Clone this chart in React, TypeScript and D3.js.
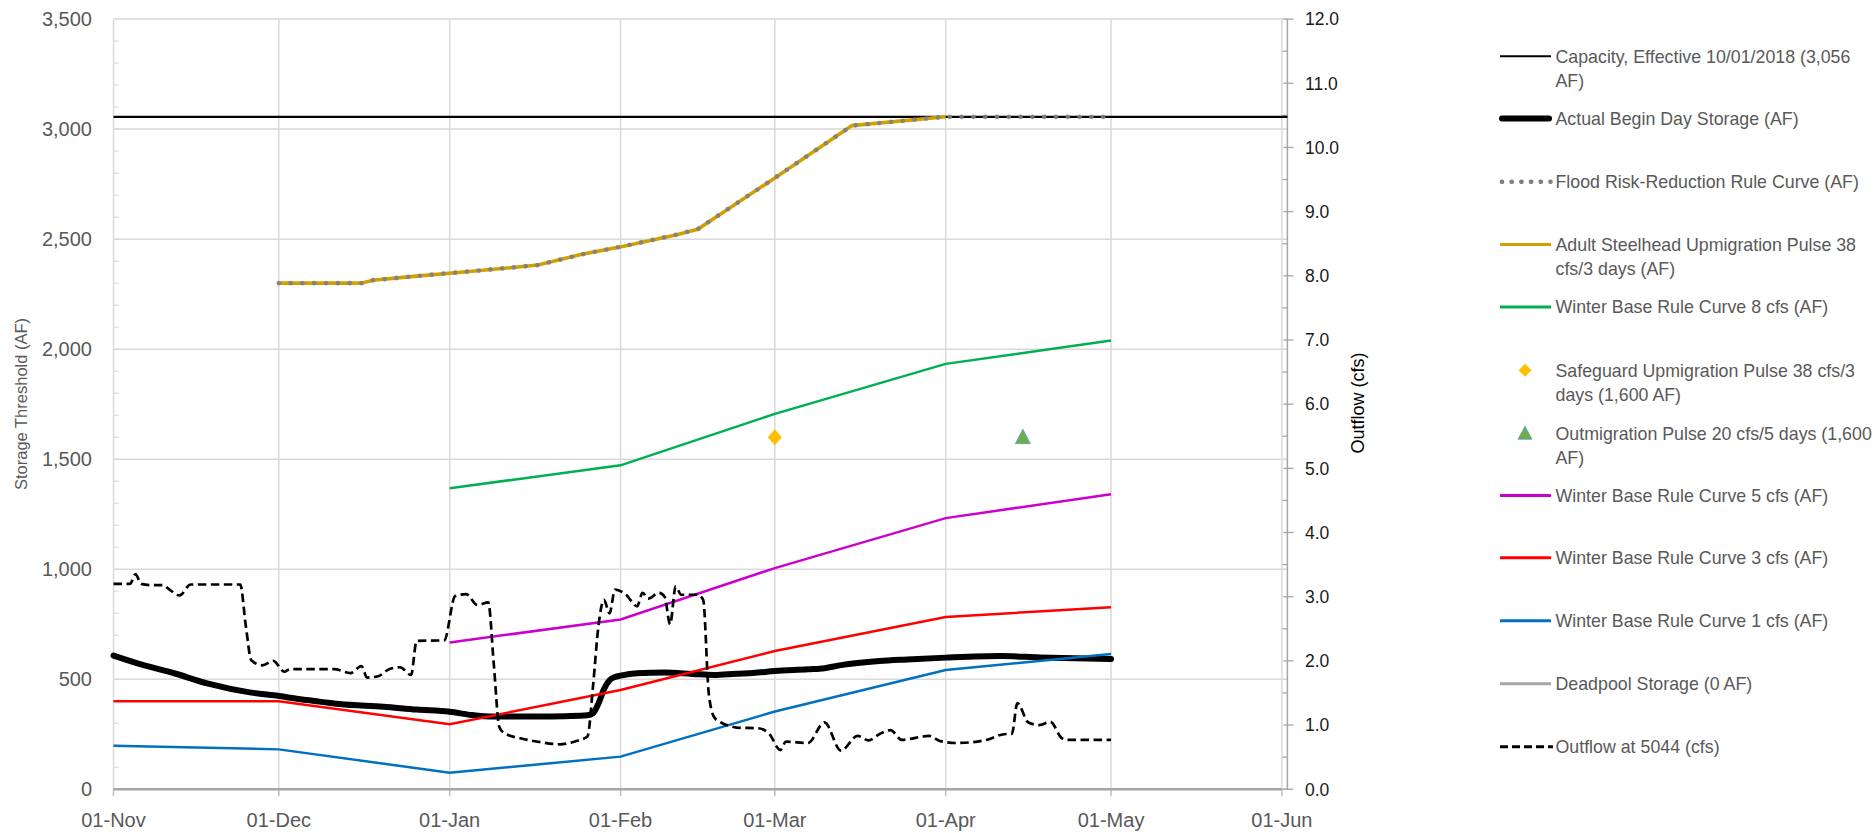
import React from "react";
import * as d3 from "d3";

// ---------- DATA ----------
const capacityAF: [string, number][] = [
  ["2018-11-01", 3056],
  ["2019-06-02", 3056],
];

const actualStorageAF: [string, number][] = [
  ["2018-11-01", 607], ["2018-11-06", 567], ["2018-11-12", 527], ["2018-11-18", 481],
  ["2018-11-26", 439], ["2018-12-01", 424], ["2018-12-06", 405], ["2018-12-10", 393],
  ["2018-12-12", 387], ["2018-12-20", 375], ["2018-12-26", 362], ["2019-01-01", 352],
  ["2019-01-05", 337], ["2019-01-09", 330], ["2019-01-17", 330], ["2019-01-22", 332],
  ["2019-01-26", 336], ["2019-01-27", 345], ["2019-01-28", 390], ["2019-01-29", 455],
  ["2019-01-30", 495], ["2019-01-31", 510], ["2019-02-01", 516], ["2019-02-04", 527],
  ["2019-02-09", 530], ["2019-02-14", 524], ["2019-02-18", 519], ["2019-02-22", 525],
  ["2019-02-25", 528], ["2019-03-01", 537], ["2019-03-07", 545], ["2019-03-10", 550],
  ["2019-03-13", 564], ["2019-03-20", 583], ["2019-03-25", 590], ["2019-04-01", 598],
  ["2019-04-11", 605], ["2019-04-18", 599], ["2019-05-01", 592],
];

const adultSteelheadAF: [string, number][] = [
  ["2018-12-01", 2300], ["2018-12-16", 2300], ["2018-12-18", 2313], ["2018-12-26", 2332],
  ["2019-01-04", 2352], ["2019-01-12", 2370], ["2019-01-17", 2382], ["2019-01-25", 2431],
  ["2019-02-02", 2470], ["2019-02-11", 2519], ["2019-02-15", 2545], ["2019-03-01", 2778],
  ["2019-03-15", 3016], ["2019-04-01", 3056],
];

const floodRuleAF: [string, number][] = [
  ["2018-12-01", 2300], ["2018-12-16", 2300], ["2018-12-18", 2313], ["2018-12-26", 2332],
  ["2019-01-04", 2352], ["2019-01-12", 2370], ["2019-01-17", 2382], ["2019-01-25", 2431],
  ["2019-02-02", 2470], ["2019-02-11", 2519], ["2019-02-15", 2545], ["2019-03-01", 2778],
  ["2019-03-15", 3016], ["2019-04-01", 3056], ["2019-04-30", 3056],
];

const winter8AF: [string, number][] = [
  ["2019-01-01", 1368], ["2019-02-01", 1472], ["2019-03-01", 1706],
  ["2019-04-01", 1933], ["2019-05-01", 2039],
];
const winter5AF: [string, number][] = [
  ["2019-01-01", 667], ["2019-02-01", 771], ["2019-03-01", 1005],
  ["2019-04-01", 1232], ["2019-05-01", 1341],
];
const winter3AF: [string, number][] = [
  ["2018-11-01", 400], ["2018-12-01", 400], ["2019-01-01", 295], ["2019-02-01", 451],
  ["2019-03-01", 628], ["2019-04-01", 783], ["2019-05-01", 827],
];
const winter1AF: [string, number][] = [
  ["2018-11-01", 198], ["2018-12-01", 181], ["2019-01-01", 75], ["2019-02-01", 148],
  ["2019-03-01", 353], ["2019-04-01", 542], ["2019-05-01", 614],
];
const deadpoolAF: [string, number][] = [
  ["2018-11-01", 0],
  ["2019-06-01", 0],
];
const safeguardPulse: [string, number][] = [["2019-03-01", 1600]];
const outmigrationPulse: [string, number][] = [["2019-04-15", 1600]];

const outflowCfs: [string, number][] = [
  ["2018-11-01", 3.2], ["2018-11-04", 3.2], ["2018-11-05", 3.35], ["2018-11-06", 3.2],
  ["2018-11-08", 3.18], ["2018-11-10", 3.18], ["2018-11-11", 3.12], ["2018-11-13", 3.02],
  ["2018-11-15", 3.19], ["2018-11-24", 3.19], ["2018-11-25", 2.55], ["2018-11-26", 2.01],
  ["2018-11-28", 1.93], ["2018-11-30", 2.0], ["2018-12-02", 1.83], ["2018-12-03", 1.87],
  ["2018-12-11", 1.87], ["2018-12-14", 1.81], ["2018-12-16", 1.92], ["2018-12-17", 1.74],
  ["2018-12-19", 1.76], ["2018-12-21", 1.87], ["2018-12-23", 1.9], ["2018-12-25", 1.78],
  ["2018-12-26", 2.31], ["2018-12-31", 2.32], ["2019-01-02", 3.01], ["2019-01-04", 3.04],
  ["2019-01-06", 2.87], ["2019-01-08", 2.91], ["2019-01-09", 1.95], ["2019-01-10", 0.97],
  ["2019-01-11", 0.87], ["2019-01-14", 0.79], ["2019-01-17", 0.74], ["2019-01-21", 0.7],
  ["2019-01-24", 0.75], ["2019-01-26", 0.82], ["2019-01-27", 1.6], ["2019-01-28", 2.55],
  ["2019-01-29", 2.95], ["2019-01-30", 2.74], ["2019-01-31", 3.11], ["2019-02-02", 3.03],
  ["2019-02-04", 2.85], ["2019-02-05", 3.06], ["2019-02-06", 2.97], ["2019-02-08", 3.06],
  ["2019-02-09", 3.0], ["2019-02-10", 2.57], ["2019-02-11", 3.16], ["2019-02-12", 3.03],
  ["2019-02-15", 3.03], ["2019-02-16", 2.95], ["2019-02-17", 1.5], ["2019-02-18", 1.12],
  ["2019-02-19", 1.05], ["2019-02-21", 0.98], ["2019-02-22", 0.96], ["2019-02-26", 0.95],
  ["2019-02-28", 0.86], ["2019-03-02", 0.61], ["2019-03-03", 0.74], ["2019-03-07", 0.72],
  ["2019-03-10", 1.04], ["2019-03-13", 0.6], ["2019-03-16", 0.83], ["2019-03-18", 0.76],
  ["2019-03-20", 0.86], ["2019-03-22", 0.92], ["2019-03-24", 0.77], ["2019-03-29", 0.83],
  ["2019-03-31", 0.75], ["2019-04-03", 0.72], ["2019-04-08", 0.76], ["2019-04-12", 0.86],
  ["2019-04-13", 0.86], ["2019-04-14", 1.34], ["2019-04-16", 1.04], ["2019-04-18", 1.0],
  ["2019-04-20", 1.05], ["2019-04-22", 0.8], ["2019-04-23", 0.77], ["2019-05-01", 0.77],
];

const leftTicks = [0, 500, 1000, 1500, 2000, 2500, 3000, 3500];
const rightTicks = [0, 1, 2, 3, 4, 5, 6, 7, 8, 9, 10, 11, 12];

const legendLabels: string[][] = [
  ["Capacity, Effective 10/01/2018 (3,056", "AF)"],
  ["Actual Begin Day Storage (AF)"],
  ["Flood Risk-Reduction Rule Curve (AF)"],
  ["Adult Steelhead Upmigration Pulse 38", "cfs/3 days (AF)"],
  ["Winter Base Rule Curve 8 cfs (AF)"],
  ["Safeguard Upmigration Pulse 38 cfs/3", "days (1,600 AF)"],
  ["Outmigration Pulse 20 cfs/5 days (1,600", "AF)"],
  ["Winter Base Rule Curve 5 cfs (AF)"],
  ["Winter Base Rule Curve 3 cfs (AF)"],
  ["Winter Base Rule Curve 1 cfs (AF)"],
  ["Deadpool Storage (0 AF)"],
  ["Outflow at 5044 (cfs)"],
];

// ---------- STYLE ----------
const FONT = "'Liberation Sans', Arial, sans-serif";
const C = {
  grid: "#d9d9d9",
  axis: "#bfbfbf",
  label: "#595959",
  orange: "#d4a000",
  dots: "#7f7f7f",
  green: "#00b050",
  magenta: "#cc00cc",
  red: "#ff0000",
  blue: "#0070c0",
  deadpool: "#a6a6a6",
  diamond: "#ffc000",
  tri: "#70ad47",
  triEdge: "#5b9bd5",
};

const parse = d3.timeParse("%Y-%m-%d");
type P = { d: Date; v: number };
const toP = (a: [string, number][]): P[] => a.map(([s, v]) => ({ d: parse(s) as Date, v }));

const L = 113.5, R = 1287.4, T = 19.1, B = 789.2;

export default function App() {
  const x = d3.scaleTime()
    .domain([parse("2018-11-01") as Date, parse("2019-06-02") as Date])
    .range([L, R]);
  const y = d3.scaleLinear().domain([0, 3500]).range([B, T]);
  const y2 = d3.scaleLinear().domain([0, 12]).range([B, T]);

  const lineL = d3.line<P>().x((p) => x(p.d)).y((p) => y(p.v));
  const lineSmooth = d3.line<P>().x((p) => x(p.d)).y((p) => y(p.v)).curve(d3.curveMonotoneX);
  const lineOut = d3.line<P>().x((p) => x(p.d)).y((p) => y2(p.v)).curve(d3.curveMonotoneX);

  const months = d3.timeMonth.range(parse("2018-11-01") as Date, parse("2019-06-02") as Date);
  const fmtMonth = d3.timeFormat("%d-%b");
  const minorL = d3.range(100, 3500, 100);
  const minorR = d3.range(0.5, 12, 1);

  const sg = toP(safeguardPulse)[0];
  const om = toP(outmigrationPulse)[0];

  const legendY = [56.2, 118.6, 181.8, 244.6, 307, 370.2, 433.2, 495.4, 557.8, 620.8, 683.8, 746.8];
  const lx1 = 1500, lx2 = 1551, tx = 1555.5;

  const legendSymbol = (i: number, cy: number) => {
    switch (i) {
      case 0: return <line x1={lx1} x2={lx2} y1={cy} y2={cy} stroke="#000" strokeWidth={2} />;
      case 1: return <line x1={lx1 + 2} x2={lx2 - 2} y1={cy} y2={cy} stroke="#000" strokeWidth={6} strokeLinecap="round" />;
      case 2: return <line x1={lx1 + 2} x2={lx2} y1={cy} y2={cy} stroke={C.dots} strokeWidth={4.8} strokeDasharray="0 9.7" strokeLinecap="round" />;
      case 3: return <line x1={lx1} x2={lx2} y1={cy} y2={cy} stroke={C.orange} strokeWidth={3} />;
      case 4: return <line x1={lx1} x2={lx2} y1={cy} y2={cy} stroke={C.green} strokeWidth={3} />;
      case 5: return <path d={`M${1525},${cy - 6.5}L${1531.5},${cy}L${1525},${cy + 6.5}L${1518.5},${cy}Z`} fill={C.diamond} />;
      case 6: return <path d={`M${1525},${cy - 7}L${1532},${cy + 6}L${1518},${cy + 6}Z`} fill={C.tri} stroke={C.triEdge} strokeWidth={0.8} />;
      case 7: return <line x1={lx1} x2={lx2} y1={cy} y2={cy} stroke={C.magenta} strokeWidth={3} />;
      case 8: return <line x1={lx1} x2={lx2} y1={cy} y2={cy} stroke={C.red} strokeWidth={3} />;
      case 9: return <line x1={lx1} x2={lx2} y1={cy} y2={cy} stroke={C.blue} strokeWidth={3} />;
      case 10: return <line x1={lx1} x2={lx2} y1={cy} y2={cy} stroke={C.deadpool} strokeWidth={3} />;
      default: return <line x1={lx1} x2={lx2 + 2} y1={cy} y2={cy} stroke="#000" strokeWidth={3} strokeDasharray="8 4" />;
    }
  };

  return (
    <div style={{ position: "absolute", left: 0, top: 0 }}>
      <svg width={1875} height={833} style={{ display: "block", background: "#fff" }} fontFamily={FONT}>
        {/* horizontal gridlines */}
        {leftTicks.map((t) => (
          <line key={"hg" + t} x1={L} x2={R} y1={y(t)} y2={y(t)} stroke={C.grid} strokeWidth={1.5} />
        ))}
        {/* vertical gridlines + x ticks */}
        {months.map((m, i) => (
          <g key={"vg" + i}>
            <line x1={x(m)} x2={x(m)} y1={T} y2={B} stroke={C.grid} strokeWidth={1.5} />
            <line x1={x(m)} x2={x(m)} y1={B} y2={B + 7} stroke={C.axis} strokeWidth={1.5} />
          </g>
        ))}
        {/* left minor ticks */}
        {minorL.map((t) => (
          <line key={"ml" + t} x1={L} x2={L + 5} y1={y(t)} y2={y(t)} stroke={C.grid} strokeWidth={1.2} />
        ))}
        {/* bottom axis */}
        <line x1={L} x2={R} y1={B} y2={B} stroke={C.axis} strokeWidth={1.5} />
        {/* right axis */}
        <line x1={R} x2={R} y1={T} y2={B} stroke="#a6a6a6" strokeWidth={1.5} />
        {rightTicks.map((t) => (
          <line key={"rt" + t} x1={R - 4} x2={R + 6} y1={y2(t)} y2={y2(t)} stroke="#a6a6a6" strokeWidth={1.3} />
        ))}
        {minorR.map((t) => (
          <line key={"rm" + t} x1={R - 5} x2={R} y1={y2(t)} y2={y2(t)} stroke="#a6a6a6" strokeWidth={1.3} />
        ))}

        {/* tick labels */}
        {leftTicks.map((t) => (
          <text key={"lt" + t} x={92} y={y(t)} dy="0.36em" textAnchor="end" fontSize={20} fill={C.label}>
            {d3.format(",")(t)}
          </text>
        ))}
        {rightTicks.map((t) => (
          <text key={"rl" + t} x={1305} y={y2(t)} dy="0.36em" textAnchor="start" fontSize={17.5} fill="#1a1a1a">
            {d3.format(".1f")(t)}
          </text>
        ))}
        {months.map((m, i) => (
          <text key={"xl" + i} x={x(m)} y={827} textAnchor="middle" fontSize={20} fill={C.label}>
            {fmtMonth(m)}
          </text>
        ))}

        {/* axis titles */}
        <text transform={`translate(21,404) rotate(-90)`} textAnchor="middle" dy="0.35em" fontSize={16.5} fill={C.label}>
          Storage Threshold (AF)
        </text>
        <text transform={`translate(1358,403) rotate(-90)`} textAnchor="middle" dy="0.35em" fontSize={18} fill="#000">
          Outflow (cfs)
        </text>

        {/* series */}
        <path d={lineL(toP(capacityAF)) || ""} fill="none" stroke="#000" strokeWidth={2.2} />
        <path d={lineSmooth(toP(actualStorageAF)) || ""} fill="none" stroke="#000" strokeWidth={6} strokeLinecap="round" strokeLinejoin="round" />
        <path d={lineL(toP(adultSteelheadAF)) || ""} fill="none" stroke={C.orange} strokeWidth={3.6} />
        <path d={lineL(toP(floodRuleAF)) || ""} fill="none" stroke={C.dots} strokeWidth={4.8} strokeDasharray="0 11.8" strokeLinecap="round" opacity={0.9} />
        <path d={lineL(toP(winter8AF)) || ""} fill="none" stroke={C.green} strokeWidth={2.5} />
        <path d={lineL(toP(winter5AF)) || ""} fill="none" stroke={C.magenta} strokeWidth={2.5} />
        <path d={lineL(toP(winter3AF)) || ""} fill="none" stroke={C.red} strokeWidth={2.5} />
        <path d={lineL(toP(winter1AF)) || ""} fill="none" stroke={C.blue} strokeWidth={2.5} />
        <path d={lineL(toP(deadpoolAF)) || ""} fill="none" stroke={C.deadpool} strokeWidth={2.5} />
        <path d={lineOut(toP(outflowCfs)) || ""} fill="none" stroke="#000" strokeWidth={2.7} strokeDasharray="8.5 4.5" />
        <path
          d={`M${x(sg.d)},${y(sg.v) - 8}L${x(sg.d) + 7},${y(sg.v)}L${x(sg.d)},${y(sg.v) + 8}L${x(sg.d) - 7},${y(sg.v)}Z`}
          fill={C.diamond}
        />
        <path
          d={`M${x(om.d)},${y(om.v) - 8}L${x(om.d) + 7.5},${y(om.v) + 6.5}L${x(om.d) - 7.5},${y(om.v) + 6.5}Z`}
          fill={C.tri}
          stroke={C.triEdge}
          strokeWidth={0.8}
        />

        {/* legend */}
        {legendLabels.map((lines, i) => (
          <g key={"lg" + i}>
            {legendSymbol(i, legendY[i])}
            {lines.map((s, j) => (
              <text key={j} x={tx} y={legendY[i] + j * 24} dy="0.36em" fontSize={17.8} fill={C.label}>
                {s}
              </text>
            ))}
          </g>
        ))}
      </svg>
    </div>
  );
}
